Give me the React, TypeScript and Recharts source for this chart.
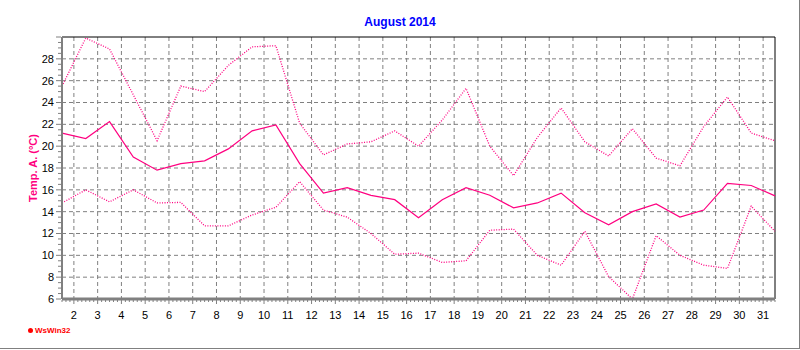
import { LineChart, Line, XAxis, YAxis, CartesianGrid, ReferenceLine } from 'recharts';

const days = [1, 2, 3, 4, 5, 6, 7, 8, 9, 10, 11, 12, 13, 14, 15, 16, 17, 18, 19, 20, 21, 22, 23, 24, 25, 26, 27, 28, 29, 30, 31];

const maxTemp = [25.5, 29.9, 28.9, 24.7, 20.5, 25.5, 25.0, 27.4, 29.1, 29.2, 22.1, 19.2, 20.2, 20.4, 21.4, 20.0,
  22.4, 25.3, 20.0, 17.3, 20.8, 23.5, 20.4, 19.1, 21.6, 18.9, 18.2, 21.8, 24.5, 21.2, 20.5];

const meanTemp = [21.2, 20.7, 22.25, 19.0, 17.8, 18.4, 18.65, 19.75, 21.4, 21.95, 18.4, 15.7, 16.2, 15.5, 15.1, 13.45,
  15.1, 16.2, 15.5, 14.35, 14.8, 15.7, 13.9, 12.8, 14.0, 14.7, 13.5, 14.15, 16.6, 16.4, 15.45];

const minTemp = [14.8, 16.0, 14.9, 16.0, 14.8, 14.85, 12.7, 12.7, 13.7, 14.4, 16.75, 14.15, 13.5, 12.0, 10.1, 10.2,
  9.35, 9.5, 12.3, 12.4, 10.0, 9.1, 12.2, 8.05, 6.0, 11.8, 10.0, 9.1, 8.8, 14.5, 12.2];

const dayLabels = [2, 3, 4, 5, 6, 7, 8, 9, 10, 11, 12, 13, 14, 15, 16, 17, 18, 19, 20, 21, 22, 23, 24, 25, 26, 27, 28, 29, 30, 31];
const tempLabels = [8, 10, 12, 14, 16, 18, 20, 22, 24, 26, 28];

const PINK = '#ff0080';
const GRID = '#808080';
const FONT = '"Liberation Sans", Arial, sans-serif';

// readings are taken at noon, date labels sit on midnight
const chartData = days.map((d, i) => ({
  t: d + 0.5,
  max: maxTemp[i],
  mean: meanTemp[i],
  min: minTemp[i],
}));

// minor ticks: 4h steps on the time axis, 0.5 degree steps on the temp axis
const xTicks = Array.from({ length: 181 }, (_, k) => 1.5 + k / 6);
const yTicks = Array.from({ length: 49 }, (_, k) => 6 + k * 0.5);

const XTick = ({ x, y, payload }: any) => {
  const v = payload.value;
  const major = Math.abs(v - Math.round(v)) < 1e-6;
  return (
    <g>
      <line x1={x} x2={x} y1={y + 1} y2={y + (major ? 5 : 3)} stroke={GRID} />
      {major && (
        <text x={x} y={y + 19.5} textAnchor="middle" fontSize={11} fontFamily={FONT} fill="#000">
          {Math.round(v)}
        </text>
      )}
    </g>
  );
};

const YTick = ({ x, y, payload }: any) => {
  const v = payload.value;
  const major = v % 2 === 0;
  return (
    <g>
      <line x1={x - (major ? 6 : 4)} x2={x - 1} y1={y} y2={y} stroke={GRID} />
      {major && v < 30 && (
        <text x={x - 8} y={y} dy="0.36em" textAnchor="end" fontSize={11} fontFamily={FONT} fill="#000">
          {v}
        </text>
      )}
    </g>
  );
};

const YLabel = ({ viewBox }: any) => {
  const cx = viewBox.x + 33;
  const cy = viewBox.y + viewBox.height / 2;
  return (
    <text x={cx} y={cy} transform={`rotate(-90 ${cx} ${cy})`} textAnchor="middle" dy="0.36em"
      fontSize={11} fontWeight="bold" fontFamily={FONT} fill={PINK}>
      Temp. A. (°C)
    </text>
  );
};

export default function App() {
  return (
    <div style={{ position: 'absolute', top: 0, left: 0, width: 800, height: 350, background: '#fff' }}>
      <div style={{ position: 'absolute', top: 0, left: 0, width: 799, height: 348, borderRight: '1px solid #808080', borderBottom: '1px solid #808080' }} />
      <div style={{ position: 'absolute', top: 15, left: 0, width: 800, textAlign: 'center', fontFamily: FONT, fontSize: 12, fontWeight: 'bold', color: '#0000ff', lineHeight: '14px' }}>
        August 2014
      </div>
      <LineChart width={800} height={350} data={chartData} margin={{ top: 37, right: 25, bottom: 0, left: 0 }}>
        <CartesianGrid stroke={GRID} strokeDasharray="4 3" horizontalValues={tempLabels} verticalValues={dayLabels} />
        <XAxis
          dataKey="t"
          type="number"
          domain={[1.5, 31.5]}
          ticks={xTicks}
          interval={0}
          height={51}
          tickLine={false}
          tickSize={0}
          tickMargin={0}
          tick={<XTick />}
          axisLine={{ stroke: GRID, strokeWidth: 3 }}
        />
        <YAxis
          type="number"
          domain={[6, 30]}
          ticks={yTicks}
          interval={0}
          width={62}
          tickLine={false}
          tickSize={0}
          tickMargin={0}
          tick={<YTick />}
          axisLine={{ stroke: GRID, strokeWidth: 2 }}
          label={<YLabel />}
        />
        <ReferenceLine y={30} stroke="#000" />
        <ReferenceLine x={31.5} stroke="#000" />
        <Line type="linear" dataKey="max" stroke={PINK} strokeWidth={1.3} strokeDasharray="1 1.5" dot={false} isAnimationActive={false} />
        <Line type="linear" dataKey="mean" stroke={PINK} strokeWidth={1.2} dot={false} isAnimationActive={false} />
        <Line type="linear" dataKey="min" stroke={PINK} strokeWidth={1.3} strokeDasharray="1 1.5" dot={false} isAnimationActive={false} />
      </LineChart>
      <div style={{ position: 'absolute', top: 326, left: 28, display: 'flex', alignItems: 'center', gap: 2, fontFamily: FONT, fontSize: 8, fontWeight: 'bold', color: '#ff0000' }}>
        <span style={{ width: 5, height: 5, borderRadius: '50%', background: '#ff0000', display: 'inline-block' }} />
        WsWin32
      </div>
    </div>
  );
}
